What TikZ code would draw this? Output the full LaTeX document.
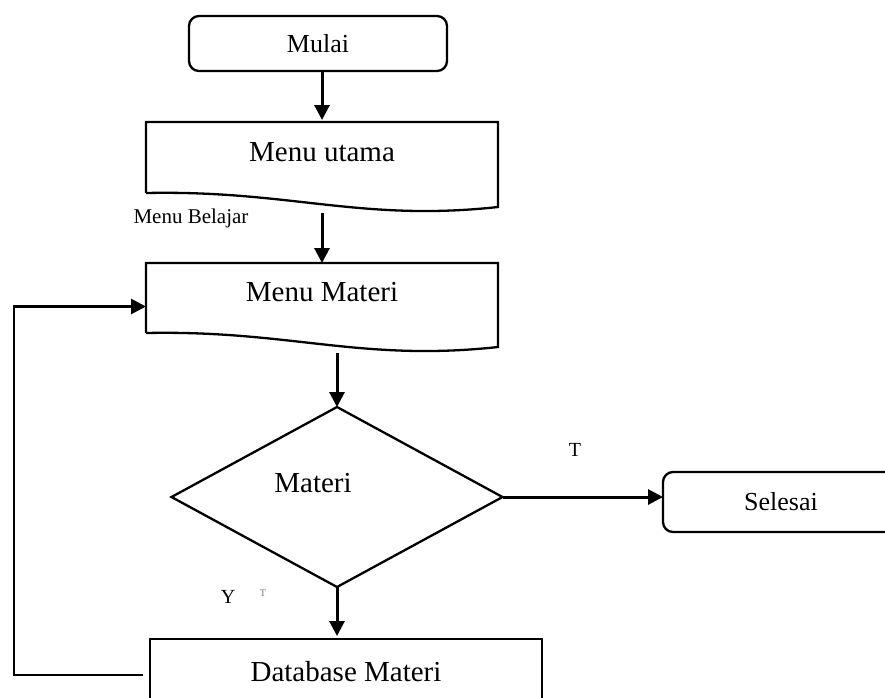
\documentclass[tikz,border=0pt]{standalone}
\usepackage{fontspec}
\setmainfont{Liberation Serif}
\usetikzlibrary{arrows.meta,shapes.geometric,calc}

% wavy-bottom "document" outline around an empty node
\newcommand\docoutline[1]{%
  \draw[boxline] ($(#1.south west)+(0,-17)$) -- (#1.north west) -- (#1.north east)
    -- ($(#1.south east)+(0,-3)$)
    .. controls ($(#1.south west)+(214,12)$) and ($(#1.south west)+(144,-20)$)
    .. ($(#1.south west)+(0,-17)$);}

\tikzset{
  boxline/.style={line width=2.3pt, line join=miter},
  terminal/.style={draw, boxline, rounded corners=10pt, inner sep=0pt, outer sep=0pt,
    font=\fontsize{26}{30}\selectfont},
  docframe/.style={inner sep=0pt, outer sep=0pt},
  proc/.style={draw, boxline, inner sep=0pt, outer sep=0pt,
    font=\fontsize{29}{33}\selectfont},
  decision/.style={draw, boxline, diamond, inner sep=0pt, outer sep=0pt},
  bigtext/.style={font=\fontsize{29}{33}\selectfont, inner sep=0pt},
  smalltext/.style={font=\fontsize{20}{24}\selectfont, inner sep=0pt},
  arr/.style={line width=3pt, -{Triangle[length=15pt,width=15pt]}},
}

\begin{document}
\begin{tikzpicture}[x=1pt, y=-1pt]
  \useasboundingbox (0,0) rectangle (885,697);
  \clip (0,0) rectangle (885,697);

  % start
  \node[terminal, minimum width=258pt, minimum height=55pt] (mulai) at (318,43.5) {Mulai};

  % main menu (document)
  \node[docframe, minimum width=352pt, minimum height=88pt] (mu) at (322,166) {};
  \docoutline{mu}
  \node[bigtext] (mutxt) at (322,152) {Menu utama};
  \node[font=\fontsize{21}{24}\selectfont, inner sep=0pt] (belajar) at (191,218) {Menu Belajar};

  % material menu (document)
  \node[docframe, minimum width=352pt, minimum height=87pt] (mm) at (322,306.5) {};
  \docoutline{mm}
  \node[bigtext] (mmtxt) at (322,292) {Menu Materi};

  % decision
  \node[decision, minimum width=331pt, minimum height=180pt] (dec) at (337,497) {};
  \node[bigtext] (dectxt) at (313,483) {Materi};

  % end
  \node[terminal, minimum width=236pt, minimum height=60pt] (sel) at (781,502) {Selesai};

  % database
  \node[proc, minimum width=392pt, minimum height=66pt] (db) at (346,672) {Database Materi};

  % labels
  \node[smalltext] (lt) at (575,450) {T};
  \node[smalltext] (ly) at (228,597) {Y};
  \node[font=\fontsize{10}{12}\selectfont, text=black!55, inner sep=0pt] (lt2) at (263,593) {T};

  % connectors
  \draw[arr, shorten >=2pt] (mulai.south -| mu.north) -- (mu.north);
  \draw[arr, shorten <=3pt] (mu.south) -- (mm.north);
  \draw[arr, shorten <=3pt] (mm.south -| dec.north) -- (dec.north);
  \draw[arr, shorten >=3pt] (dec.south) -- (db.north -| dec.south);
  \draw[arr] (dec.east) -- (dec.east -| sel.west);

  % loop back from the database to the material menu
  \coordinate (loopstart) at (143,675);
  \coordinate (loopcorner) at (14,675);
  \draw[arr, line width=2.8pt] (loopstart) -- (loopcorner) |- (mm.west);
\end{tikzpicture}
\end{document}
